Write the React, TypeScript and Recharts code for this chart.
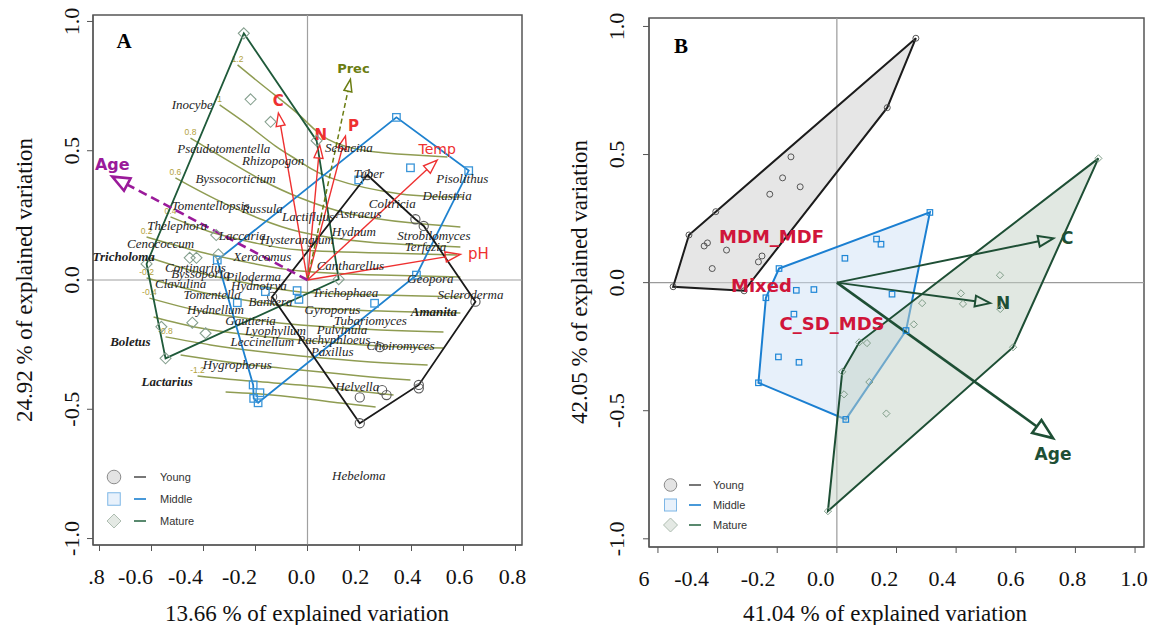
import React from "react";
import {
  Legend,
  ReferenceArea,
  ReferenceLine,
  Scatter,
  ScatterChart,
  XAxis,
  YAxis,
} from "recharts";

type XY = [number, number];

// ---------- shared ticks ----------
const yTicks = [-1, -0.5, 0, 0.5, 1];
const yTickLabels = ["-1.0", "-0.5", "0.0", "0.5", "1.0"];

// ---------- panel A ----------
const aXTicks = [-0.8, -0.6, -0.4, -0.2, 0, 0.2, 0.4, 0.6, 0.8];
const aXTickLabels = [".8", "-0.6", "-0.4", "-0.2", "0.0", "0.2", "0.4", "0.6", "0.8"];

const aYoung: XY[] = [
  [0.23, 0.406], [0.415, 0.235], [0.447, 0.209], [0.646, -0.084], [0.428, -0.406],
  [0.428, -0.419], [0.287, -0.426], [0.304, -0.445], [0.278, -0.26], [0.201, -0.454],
  [0.201, -0.554], [-0.136, -0.065],
];
const aYoungHull: XY[] = [
  [0.23, 0.406], [0.415, 0.235], [0.447, 0.209], [0.646, -0.084], [0.428, -0.406],
  [0.201, -0.554], [-0.136, -0.065],
];
const aMiddle: XY[] = [
  [0.342, 0.629], [0.396, 0.434], [0.62, 0.423], [0.197, 0.387], [0.419, 0.019],
  [-0.347, 0.077], [-0.162, -0.045], [-0.04, -0.041], [-0.033, -0.075], [-0.27, -0.088],
  [-0.209, -0.406], [-0.183, -0.436], [-0.207, -0.458], [-0.19, -0.475], [0.258, -0.09],
];
const aMiddleHull: XY[] = [
  [-0.347, 0.077], [0.342, 0.629], [0.62, 0.423], [0.419, 0.019], [-0.19, -0.475],
  [-0.207, -0.458], [-0.209, -0.406],
];
const aMature: XY[] = [
  [-0.245, 0.954], [-0.219, 0.699], [-0.142, 0.612], [0.035, 0.539], [-0.351, 0.174],
  [-0.343, 0.099], [-0.453, 0.086], [-0.427, 0.086], [-0.619, 0.062], [0.12, 0.003],
  [-0.562, -0.181], [-0.443, -0.165], [-0.392, -0.206], [-0.546, -0.303],
];
const aMatureHull: XY[] = [
  [-0.245, 0.954], [0.035, 0.539], [0.12, 0.003], [-0.546, -0.303], [-0.619, 0.062],
];

// surface contours (ordisurf-like), one polyline per level
const aContourLabels = ["1.2", "1", "0.8", "0.6", "0.4", "0.2", "", "-0.2", "-0.4", "", "-0.8", "", "-1.2", ""];
const aContours: XY[][] = [
  [[-0.269, 0.832], [-0.15, 0.735], [-0.027, 0.634], [0.077, 0.545], [0.231, 0.499], [0.396, 0.484], [0.538, 0.476]],
  [[-0.338, 0.677], [-0.219, 0.592], [-0.123, 0.518], [-0.027, 0.456], [0.1, 0.391], [0.358, 0.333], [0.6, 0.321]],
  [[-0.45, 0.549], [-0.296, 0.456], [-0.162, 0.379], [-0.027, 0.317], [0.165, 0.255], [0.396, 0.221], [0.588, 0.205]],
  [[-0.508, 0.395], [-0.354, 0.313], [-0.181, 0.236], [-0.027, 0.186], [0.231, 0.147], [0.588, 0.128]],
  [[-0.527, 0.244], [-0.373, 0.186], [-0.2, 0.143], [-0.027, 0.116], [0.292, 0.104], [0.577, 0.097]],
  [[-0.619, 0.166], [-0.412, 0.108], [-0.219, 0.066], [-0.027, 0.035], [0.281, 0.019], [0.588, 0.012]],
  [[-0.604, 0.085], [-0.412, 0.027], [-0.219, -0.015], [-0.027, -0.046], [0.281, -0.058], [0.596, -0.066]],
  [[-0.619, 0.008], [-0.412, -0.046], [-0.219, -0.081], [-0.027, -0.104], [0.281, -0.12], [0.588, -0.128]],
  [[-0.608, -0.07], [-0.412, -0.12], [-0.219, -0.151], [-0.027, -0.174], [0.281, -0.193], [0.523, -0.201]],
  [[-0.592, -0.143], [-0.412, -0.186], [-0.219, -0.213], [-0.027, -0.232], [0.281, -0.255], [0.523, -0.263]],
  [[-0.546, -0.22], [-0.373, -0.251], [-0.2, -0.275], [-0.027, -0.294], [0.242, -0.317], [0.462, -0.329]],
  [[-0.488, -0.29], [-0.335, -0.313], [-0.181, -0.333], [-0.027, -0.348], [0.204, -0.371], [0.396, -0.387]],
  [[-0.423, -0.371], [-0.219, -0.391], [-0.027, -0.406], [0.165, -0.426], [0.331, -0.445]],
  [[-0.315, -0.433], [-0.181, -0.441], [-0.027, -0.456], [0.127, -0.476], [0.262, -0.491]],
];

const aEnvNames = ["C", "N", "P", "Prec", "Temp", "pH", "Age"];
const aEnvX = [-0.112, 0.047, 0.146, 0.165, 0.499, 0.588, -0.751];
const aEnvY = [0.646, 0.522, 0.557, 0.776, 0.464, 0.099, 0.4];

const aSpecies: [string, number, number][] = [
  ["Inocybe", -0.443, 0.677], ["Pseudotomentella", -0.322, 0.509], ["Rhizopogon", -0.132, 0.464],
  ["Byssocorticium", -0.277, 0.393], ["Tomentellopsis", -0.373, 0.29], ["Russula", -0.174, 0.277],
  ["Thelephora", -0.501, 0.209], ["Lactifluus", 0.002, 0.245], ["Laccaria", -0.251, 0.174],
  ["Hysterangium", -0.04, 0.155], ["Cenococcum", -0.565, 0.142], ["Tricholoma", -0.707, 0.09],
  ["Xerocomus", -0.174, 0.09], ["Cortinarius", -0.431, 0.048], ["Byssoporia", -0.412, 0.026],
  ["Piloderma", -0.207, 0.013], ["Cantharellus", 0.165, 0.058], ["Sebacina", 0.159, 0.513],
  ["Tuber", 0.236, 0.413], ["Pisolithus", 0.595, 0.391], ["Delastria", 0.537, 0.326],
  ["Coltricia", 0.326, 0.297], ["Astraeus", 0.197, 0.258], ["Hydnum", 0.178, 0.187],
  ["Strobilomyces", 0.486, 0.174], ["Terfezia", 0.454, 0.129], ["Geopora", 0.473, 0.007],
  ["Clavulina", -0.488, -0.013], ["Hydnotrya", -0.187, -0.023], ["Tomentella", -0.367, -0.055],
  ["Bankera", -0.142, -0.084], ["Hydnellum", -0.354, -0.113], ["Gautieria", -0.219, -0.155],
  ["Lyophyllum", -0.123, -0.197], ["Leccinellum", -0.174, -0.239], ["Boletus", -0.681, -0.239],
  ["Hygrophorus", -0.27, -0.325], ["Lactarius", -0.54, -0.393], ["Gyroporus", 0.096, -0.116],
  ["Trichophaea", 0.146, -0.048], ["Tubariomyces", 0.242, -0.155], ["Pulvinula", 0.133, -0.193],
  ["Pachyphloeus", 0.101, -0.232], ["Paxillus", 0.095, -0.275], ["Choiromyces", 0.358, -0.255],
  ["Amanita", 0.486, -0.123], ["Scleroderma", 0.627, -0.055], ["Helvella", 0.191, -0.41],
  ["Hebeloma", 0.197, -0.758],
];
const boldSpecies = ["Tricholoma", "Boletus", "Lactarius", "Amanita"];

// ---------- panel B ----------
const bXTicks = [-0.6, -0.4, -0.2, 0, 0.2, 0.4, 0.6, 0.8, 1.0];
const bXTickLabels = ["6", "-0.4", "-0.2", "0.0", "0.2", "0.4", "0.6", "0.8", "1.0"];

const bYoung: XY[] = [
  [-0.549, -0.016], [-0.496, 0.186], [-0.406, 0.277], [0.265, 0.954], [0.169, 0.683],
  [-0.311, -0.032], [-0.154, 0.491], [-0.182, 0.409], [-0.123, 0.374], [-0.225, 0.345],
  [-0.434, 0.155], [-0.445, 0.143], [-0.37, 0.127], [-0.251, 0.104], [-0.263, 0.081],
  [-0.418, 0.055],
];
const bYoungHull: XY[] = [
  [-0.549, -0.016], [-0.496, 0.186], [-0.406, 0.277], [0.265, 0.954], [0.169, 0.683], [-0.311, -0.032],
];
const bMiddle: XY[] = [
  [-0.194, 0.055], [0.312, 0.274], [0.232, -0.187], [0.03, -0.534], [-0.263, -0.391],
  [-0.238, -0.059], [0.133, 0.17], [0.148, 0.15], [0.027, 0.095], [0.185, -0.045],
  [-0.136, -0.03], [-0.077, -0.027], [-0.144, -0.123], [-0.196, -0.29], [-0.127, -0.311],
];
const bMiddleHull: XY[] = [
  [-0.194, 0.055], [0.312, 0.274], [0.232, -0.187], [0.03, -0.534], [-0.263, -0.391], [-0.238, -0.059],
];
const bMature: XY[] = [
  [0.877, 0.485], [0.591, -0.252], [-0.03, -0.892], [0.018, -0.348], [0.075, -0.233],
  [0.101, -0.236], [0.547, 0.029], [0.416, -0.042], [0.423, -0.083], [0.286, -0.08],
  [0.548, -0.103], [0.258, -0.163], [0.024, -0.436], [0.109, -0.388], [0.166, -0.511],
];
const bMatureHull: XY[] = [
  [0.877, 0.485], [0.591, -0.252], [-0.03, -0.892], [0.018, -0.348], [0.075, -0.233],
];

const bEnvNames = ["C", "N", "Age"];
const bEnvX = [0.726, 0.514, 0.725];
const bEnvY = [0.173, -0.08, -0.607];

const bGroupNames = ["MDM_MDF", "Mixed", "C_SD_MDS"];
const bGroupX = [-0.219, -0.253, -0.016];
const bGroupY = [0.182, -0.01, -0.16];

// ---------- styles ----------
const SERIF = "'Liberation Serif', 'Times New Roman', serif";
const SANS = "'Liberation Sans', Arial, sans-serif";
const DEJAVU = "'DejaVu Sans', Verdana, sans-serif";

type ArrowStyle = {
  color: string; width: number; dash?: string; head: number; headW: number;
  size: number; weight: string; lx: number; ly: number;
};
const RED = "#ee3030";
const aArrowStyle: Record<string, ArrowStyle> = {
  C: { color: RED, width: 1.4, head: 13, headW: 9, size: 15, weight: "bold", lx: 0, ly: -12 },
  N: { color: RED, width: 1.4, head: 13, headW: 9, size: 15, weight: "bold", lx: 1, ly: -10 },
  P: { color: RED, width: 1.4, head: 13, headW: 9, size: 15, weight: "bold", lx: 8, ly: -10 },
  Prec: { color: "#6b7d12", width: 1.5, dash: "5 3", head: 12, headW: 8, size: 13, weight: "bold", lx: 3, ly: -11 },
  Temp: { color: RED, width: 1.4, head: 14, headW: 10, size: 14, weight: "normal", lx: 0, ly: -11 },
  pH: { color: RED, width: 1.4, head: 15, headW: 10, size: 15, weight: "normal", lx: 18, ly: 0 },
  Age: { color: "#9a1a9a", width: 2.6, dash: "9 5", head: 17, headW: 14, size: 16, weight: "bold", lx: 0, ly: -12 },
};
const GREEN = "#1e4f35";
const bArrowStyle: Record<string, ArrowStyle> = {
  C: { color: GREEN, width: 2, head: 15, headW: 11, size: 17, weight: "bold", lx: 14, ly: 0 },
  N: { color: GREEN, width: 2, head: 15, headW: 11, size: 17, weight: "bold", lx: 13, ly: 0 },
  Age: { color: GREEN, width: 2.6, head: 20, headW: 16, size: 17, weight: "bold", lx: 0, ly: 16 },
};
const aTickDx = [-3, -16, -18, -16, -6, -4, -4, -4, -3];
const bTickDx = [-14, -26, -19, -16, -12, -14, -5, -3, -1];

// ---------- helpers ----------
const toPts = (a: XY[]) => a.map(([x, y]) => ({ x, y }));
const Empty = () => <g />;

const hullLine = (fill: string, opacity: number, stroke: string, width: number) => (p: any) => (
  <polygon
    points={(p.points || []).map((q: any) => `${q.x},${q.y}`).join(" ")}
    fill={fill}
    fillOpacity={opacity}
    stroke={stroke}
    strokeWidth={width}
    strokeLinejoin="miter"
  />
);

const arrowLine = (name: string, s: ArrowStyle) => (p: any) => {
  const pts = p.points || [];
  if (pts.length < 2) return <g />;
  const o = pts[0];
  const t = pts[1];
  const dx = t.x - o.x;
  const dy = t.y - o.y;
  const len = Math.hypot(dx, dy) || 1;
  const ux = dx / len;
  const uy = dy / len;
  const bx = t.x - ux * s.head;
  const by = t.y - uy * s.head;
  const hw = s.headW / 2;
  const tri = `${t.x},${t.y} ${bx - uy * hw},${by + ux * hw} ${bx + uy * hw},${by - ux * hw}`;
  return (
    <g>
      <line x1={o.x} y1={o.y} x2={bx} y2={by} stroke={s.color} strokeWidth={s.width} strokeDasharray={s.dash} />
      <polygon points={tri} fill="none" stroke={s.color} strokeWidth={s.width} strokeLinejoin="miter" />
      <text
        x={t.x + s.lx}
        y={t.y + s.ly}
        textAnchor="middle"
        dominantBaseline="central"
        fontFamily={DEJAVU}
        fontSize={s.size}
        fontWeight={s.weight}
        fill={s.color}
      >
        {name}
      </text>
    </g>
  );
};

const circleShape = (r: number, stroke: string, sw = 1) => (p: any) => (
  <circle cx={p.cx} cy={p.cy} r={r} fill="none" stroke={stroke} strokeWidth={sw} />
);
const squareShape = (s: number, stroke: string, sw = 1.2) => (p: any) => (
  <rect x={p.cx - s / 2} y={p.cy - s / 2} width={s} height={s} fill="none" stroke={stroke} strokeWidth={sw} />
);
const diamondShape = (h: number, stroke: string, sw = 1) => (p: any) => (
  <polygon
    points={`${p.cx},${p.cy - h} ${p.cx + h},${p.cy} ${p.cx},${p.cy + h} ${p.cx - h},${p.cy}`}
    fill="none"
    stroke={stroke}
    strokeWidth={sw}
  />
);

const SpeciesLabel = (p: any) => {
  const bold = boldSpecies.includes(p.payload.name);
  return (
    <text
      x={p.cx}
      y={p.cy}
      textAnchor="middle"
      dominantBaseline="central"
      fontFamily={SERIF}
      fontStyle="italic"
      fontWeight={bold ? "bold" : "normal"}
      fontSize={13}
      fill="#1e1e1e"
    >
      {p.payload.name}
    </text>
  );
};

const ContourLabel = (p: any) => (
  <text x={p.cx} y={p.cy - 6} textAnchor="middle" dominantBaseline="central" fontFamily={SANS} fontSize={8.5} fill="#b3a23c">
    {p.payload.label}
  </text>
);

const GroupLabel = (p: any) => (
  <text
    x={p.cx}
    y={p.cy}
    textAnchor="middle"
    dominantBaseline="central"
    fontFamily={DEJAVU}
    fontWeight="bold"
    fontSize={18}
    fill="#d0153a"
  >
    {p.payload.name}
  </text>
);

const findIdx = (ticks: number[], v: number) => ticks.findIndex((t) => Math.abs(t - v) < 1e-6);

const XTick = (ticks: number[], labels: string[], dxs: number[]) => (p: any) => {
  const i = findIdx(ticks, p.payload.value);
  return (
    <text x={p.x + (dxs[i] || 0)} y={p.y + 31} textAnchor="middle" fontFamily={SERIF} fontSize={22} fill="#111">
      {labels[i]}
    </text>
  );
};

const YTick = (baseX: number) => (p: any) => {
  const i = findIdx(yTicks, p.payload.value);
  return (
    <text
      transform={`translate(${baseX}, ${p.y}) rotate(-90)`}
      textAnchor="middle"
      fontFamily={SERIF}
      fontSize={22}
      fill="#111"
    >
      {yTickLabels[i]}
    </text>
  );
};

const XTitle = ({ tx, ty, text }: { tx: number; ty: number; text: string }) => (
  <text x={tx} y={ty} textAnchor="middle" fontFamily={SERIF} fontSize={23} fill="#111">
    {text}
  </text>
);
const YTitle = ({ tx, ty, text }: { tx: number; ty: number; text: string }) => (
  <text transform={`translate(${tx}, ${ty}) rotate(-90)`} textAnchor="middle" fontFamily={SERIF} fontSize={23} fill="#111">
    {text}
  </text>
);
const PanelLetter = ({ tx, ty, text }: { tx: number; ty: number; text: string }) => (
  <text x={tx} y={ty} textAnchor="middle" fontFamily={SERIF} fontWeight="bold" fontSize={21} fill="#000">
    {text}
  </text>
);

const groupNames = ["Young", "Middle", "Mature"];
const LegendBox = ({ rowGap, big }: { rowGap: number; big: boolean }) => {
  const r = big ? 6.8 : 6.3;
  const sq = big ? 12.5 : 12;
  const dh = 7;
  const cx = big ? 14 : 10.5;
  const l1 = big ? 34 : 29;
  const tx = big ? 60 : 53;
  const ys = [11, 11 + rowGap, 11 + rowGap * 2];
  const lineCol = ["#555", "#1b80d0", "#2f6b4a"];
  return (
    <svg width={120} height={70} style={{ display: "block" }}>
      <circle cx={cx} cy={ys[0]} r={r} fill="#e3e3e3" stroke="#8c8c8c" strokeWidth={1} />
      <rect x={cx - sq / 2} y={ys[1] - sq / 2} width={sq} height={sq} fill="#e8f1fb" stroke="#7db6e6" strokeWidth={1} />
      <polygon
        points={`${cx},${ys[2] - dh} ${cx + dh},${ys[2]} ${cx},${ys[2] + dh} ${cx - dh},${ys[2]}`}
        fill="#e4e9e4"
        stroke="#aebdb1"
        strokeWidth={1}
      />
      {groupNames.map((g, i) => (
        <g key={g}>
          <line x1={l1} x2={l1 + 12} y1={ys[i]} y2={ys[i]} stroke={lineCol[i]} strokeWidth={1.6} />
          <text x={tx} y={ys[i]} dominantBaseline="central" fontFamily={SANS} fontSize={11} fill="#333">
            {g}
          </text>
        </g>
      ))}
    </svg>
  );
};

// ---------- panels ----------
function PanelA() {
  const xDom: [number, number] = [-0.825, 0.825];
  const yDom: [number, number] = [-1.025, 1.025];
  const contourStarts = aContours.map((c, i) => ({ x: c[0][0], y: c[0][1], label: aContourLabels[i] }));
  const species = aSpecies.map(([name, x, y]) => ({ name, x, y }));
  return (
    <ScatterChart width={560} height={625} margin={{ top: 15, right: 38, bottom: 0, left: 0 }}>
      <XAxis
        type="number"
        dataKey="x"
        domain={xDom}
        ticks={aXTicks}
        allowDataOverflow
        height={80}
        stroke="#555"
        tickSize={6}
        tick={XTick(aXTicks, aXTickLabels, aTickDx)}
        label={<XTitle tx={307} ty={621} text="13.66 % of explained variation" />}
      />
      <YAxis
        type="number"
        dataKey="y"
        domain={yDom}
        ticks={yTicks}
        allowDataOverflow
        width={93}
        stroke="#555"
        tickSize={6}
        tick={YTick(79)}
        label={<YTitle tx={32} ty={280} text="24.92 % of explained variation" />}
      />
      <ReferenceLine x={0} stroke="#a0a0a0" strokeWidth={1.2} />
      <ReferenceLine y={0} stroke="#a0a0a0" strokeWidth={1.2} />
      {aContours.map((c, i) => (
        <Scatter
          key={"ct" + i}
          data={toPts(c)}
          shape={Empty}
          line={{ stroke: "#8f9c52", strokeWidth: 1.5 }}
          lineJointType="natural"
          isAnimationActive={false}
        />
      ))}
      <Scatter data={contourStarts} shape={ContourLabel} isAnimationActive={false} />
      <Scatter data={toPts(aMatureHull)} shape={Empty} line={hullLine("none", 0, "#1f5a3a", 1.8)} isAnimationActive={false} />
      <Scatter data={toPts(aMiddleHull)} shape={Empty} line={hullLine("none", 0, "#1f82cf", 1.8)} isAnimationActive={false} />
      <Scatter data={toPts(aYoungHull)} shape={Empty} line={hullLine("none", 0, "#1a1a1a", 1.8)} isAnimationActive={false} />
      {aEnvNames.map((n, i) => (
        <Scatter
          key={"ea" + n}
          data={[{ x: 0, y: 0 }, { x: aEnvX[i], y: aEnvY[i] }]}
          shape={Empty}
          line={arrowLine(n, aArrowStyle[n])}
          isAnimationActive={false}
        />
      ))}
      <Scatter data={toPts(aYoung)} shape={circleShape(4.6, "#5a5a5a", 1.1)} isAnimationActive={false} />
      <Scatter data={toPts(aMiddle)} shape={squareShape(7.5, "#3a95d8", 1.3)} isAnimationActive={false} />
      <Scatter data={toPts(aMature)} shape={diamondShape(5.5, "#86a08f", 1.1)} isAnimationActive={false} />
      <Scatter data={species} shape={SpeciesLabel} isAnimationActive={false} />
      <ReferenceArea
        x1={xDom[0]}
        x2={xDom[1]}
        y1={yDom[0]}
        y2={yDom[1]}
        fill="none"
        stroke="#555"
        strokeWidth={1.5}
        label={<PanelLetter tx={124} ty={48} text="A" />}
      />
      <Legend
        layout="vertical"
        align="center"
        verticalAlign="middle"
        wrapperStyle={{ left: 100, top: 466, width: 120, height: 70 }}
        content={() => <LegendBox rowGap={22} big />}
      />
    </ScatterChart>
  );
}

function PanelB() {
  const xDom: [number, number] = [-0.63, 1.03];
  const yDom: [number, number] = [-1.032, 1.033];
  const groups = bGroupNames.map((name, i) => ({ name, x: bGroupX[i], y: bGroupY[i] }));
  return (
    <ScatterChart width={593} height={625} margin={{ top: 18, right: 9, bottom: 0, left: 0 }}>
      <XAxis
        type="number"
        dataKey="x"
        domain={xDom}
        ticks={bXTicks}
        allowDataOverflow
        height={78}
        stroke="#555"
        tickSize={6}
        tick={XTick(bXTicks, bXTickLabels, bTickDx)}
        label={<XTitle tx={325} ty={621} text="41.04 % of explained variation" />}
      />
      <YAxis
        type="number"
        dataKey="y"
        domain={yDom}
        ticks={yTicks}
        allowDataOverflow
        width={89}
        stroke="#555"
        tickSize={6}
        tick={YTick(64)}
        label={<YTitle tx={27} ty={282} text="42.05 % of explained variation" />}
      />
      <ReferenceLine x={0} stroke="#9a9a9a" strokeWidth={1.2} />
      <ReferenceLine y={0} stroke="#9a9a9a" strokeWidth={1.2} />
      <Scatter data={toPts(bYoungHull)} shape={Empty} line={hullLine("#d6d6d6", 0.6, "#1c1c1c", 2)} isAnimationActive={false} />
      <Scatter data={toPts(bMiddleHull)} shape={Empty} line={hullLine("#cfe2f6", 0.5, "#1b7fd1", 2)} isAnimationActive={false} />
      <Scatter data={toPts(bMatureHull)} shape={Empty} line={hullLine("#c3d2c5", 0.5, "#1e4f35", 2)} isAnimationActive={false} />
      {bEnvNames.map((n, i) => (
        <Scatter
          key={"eb" + n}
          data={[{ x: 0, y: 0 }, { x: bEnvX[i], y: bEnvY[i] }]}
          shape={Empty}
          line={arrowLine(n, bArrowStyle[n])}
          isAnimationActive={false}
        />
      ))}
      <Scatter data={toPts(bYoung)} shape={circleShape(3, "#555", 1)} isAnimationActive={false} />
      <Scatter data={toPts(bMiddle)} shape={squareShape(5.5, "#1e86d6", 1.2)} isAnimationActive={false} />
      <Scatter data={toPts(bMature)} shape={diamondShape(3.6, "#7f9d88", 1)} isAnimationActive={false} />
      <Scatter data={groups} shape={GroupLabel} isAnimationActive={false} />
      <ReferenceArea
        x1={xDom[0]}
        x2={xDom[1]}
        y1={yDom[0]}
        y2={yDom[1]}
        fill="none"
        stroke="#555"
        strokeWidth={1.5}
        label={<PanelLetter tx={121} ty={53} text="B" />}
      />
      <Legend
        layout="vertical"
        align="center"
        verticalAlign="middle"
        wrapperStyle={{ left: 100, top: 474, width: 120, height: 70 }}
        content={() => <LegendBox rowGap={20} big={false} />}
      />
    </ScatterChart>
  );
}

export default function App() {
  return (
    <div style={{ position: "absolute", left: 0, top: 0, width: 1153, height: 625, background: "#fff", overflow: "hidden" }}>
      <div style={{ position: "absolute", left: 0, top: 0 }}>
        <PanelA />
      </div>
      <div style={{ position: "absolute", left: 560, top: 0 }}>
        <PanelB />
      </div>
    </div>
  );
}
